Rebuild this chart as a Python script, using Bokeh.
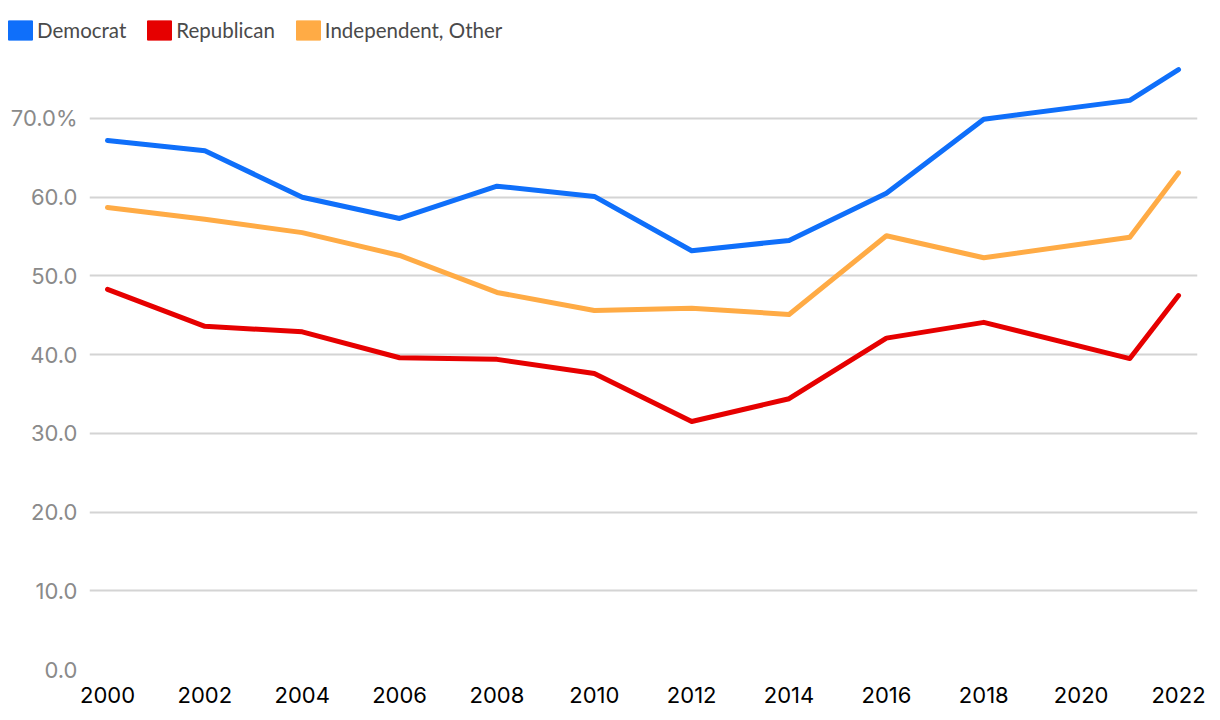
from bokeh.plotting import figure
from bokeh.layouts import column
from bokeh.models import Legend, LegendItem, FixedTicker, Range1d
from bokeh.embed import file_html
from bokeh.resources import INLINE

years = [2000, 2002, 2004, 2006, 2008, 2010, 2012, 2014, 2016, 2018, 2021, 2022]
democrat = [67.2, 65.9, 60.0, 57.3, 61.4, 60.1, 53.2, 54.5, 60.5, 69.9, 72.3, 76.2]
republican = [48.3, 43.6, 42.9, 39.6, 39.4, 37.6, 31.5, 34.4, 42.1, 44.1, 39.5, 47.5]
independent = [58.7, 57.2, 55.5, 52.6, 47.9, 45.6, 45.9, 45.1, 55.1, 52.3, 54.9, 63.1]
series_names = ["Democrat", "Republican", "Independent, Other"]
colors = ["#0f6ffa", "#e60000", "#ffab45"]
x_ticks = list(range(2000, 2023, 2))
y_ticks = [0, 10, 20, 30, 40, 50, 60, 70]
y_labels = {t: (f"{t:.1f}%" if t == 70 else f"{t:.1f}") for t in y_ticks}

AX_FONT = "Inter"
LEG_FONT = "Lato"
W = 1212
NAN = float("nan")

# ---- legend strip (separate figure on top) ----
leg = figure(width=W, height=55, output_backend="svg", toolbar_location=None,
             x_range=Range1d(0, 1), y_range=Range1d(0, 1),
             min_border_left=0, min_border_right=0, min_border_top=0, min_border_bottom=0)
leg.frame_align = False
leg.axis.visible = False
leg.grid.visible = False
leg.outline_line_color = None
items = []
for name, c in zip(series_names, colors):
    # legend swatch proxy: one undrawable (NaN) row so the legend has a row to style
    r = leg.quad(left=[NAN], right=[NAN], top=[NAN], bottom=[NAN], fill_color=c, line_color=c)
    items.append(LegendItem(label=name, renderers=[r]))
legend = Legend(items=items, orientation="horizontal", location=(5, 13.5),
                padding=0, margin=0, spacing=18, label_standoff=2,
                glyph_width=30, glyph_height=24, label_height=24,
                border_line_color=None, background_fill_alpha=0,
                label_text_font=LEG_FONT, label_text_font_size="20.5px",
                label_text_color="#4a4a4a")
leg.add_layout(legend, "center")

# ---- main chart ----
p = figure(width=W, height=657, output_backend="svg", toolbar_location=None,
           x_range=Range1d(1999.63, 2022.39), y_range=Range1d(0, 78),
           min_border_left=89, min_border_right=15, min_border_top=0, min_border_bottom=43)
p.frame_align = False
p.outline_line_color = None
p.background_fill_color = "white"
p.border_fill_color = "white"

for vals, c in zip([democrat, republican, independent], colors):
    p.line(years, vals, line_color=c, line_width=5, line_cap="round", line_join="round")

p.xaxis.ticker = FixedTicker(ticks=x_ticks)
p.yaxis.ticker = FixedTicker(ticks=y_ticks)
p.yaxis.major_label_overrides = y_labels
for ax in [p.xaxis[0], p.yaxis[0]]:
    ax.axis_line_color = None
    ax.major_tick_line_color = None
    ax.minor_tick_line_color = None
    ax.major_tick_out = 0
    ax.major_tick_in = 0
    ax.major_label_text_font = AX_FONT
p.xaxis.major_label_text_font_size = "22px"
p.xaxis.major_label_text_color = "#000000"
p.xaxis.major_label_standoff = 17
p.yaxis.major_label_text_font_size = "22px"
p.yaxis.major_label_text_color = "#8a8a8a"
p.yaxis.major_label_standoff = 12

p.xgrid.grid_line_color = None
p.ygrid.grid_line_color = "#d4d4d4"
p.ygrid.grid_line_width = 2

layout = column(leg, p, spacing=0)
open("out.html", "w").write(file_html(layout, INLINE))
